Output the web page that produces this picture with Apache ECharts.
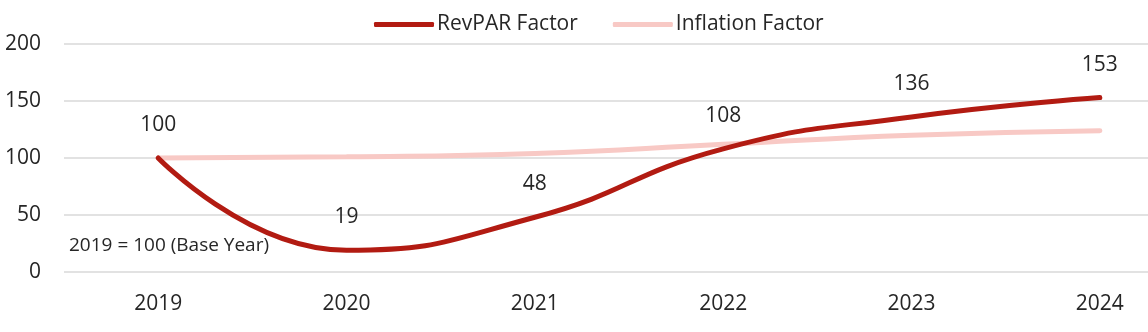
<!DOCTYPE html>
<html><head><meta charset="utf-8">
<script src="https://cdn.jsdelivr.net/npm/echarts@6/dist/echarts.min.js"></script>
<style>html,body{margin:0;padding:0;background:#fff}#c{width:1148px;height:332px}</style>
</head><body><div id="c"></div>
<script>
const years = ['2019','2020','2021','2022','2023','2024'];
const revparFactor = [100, 19, 48, 108, 136, 153];
const inflationFactor = [100, 101, 104, 112, 120, 124];
const yTicks = {min: 0, max: 200, interval: 50};
const note = '2019 = 100 (Base Year)';

const FONT = 'Open Sans';
const TXT = '#262626';
const chart = echarts.init(document.getElementById('c'), null, {renderer: 'canvas'});
chart.setOption({
  animation: false,
  textStyle: {fontFamily: FONT},
  grid: {left: 64, width: 1130, top: 44, height: 228, containLabel: false, outerBoundsMode: 'none'},
  legend: {
    left: 369, top: 9, itemWidth: 60, itemHeight: 5, itemGap: 35, icon: 'roundRect',
    textStyle: {fontFamily: FONT, fontSize: 21, color: TXT, padding: [0,0,0,-2]},
    data: ['RevPAR Factor', 'Inflation Factor']
  },
  xAxis: {
    type: 'category', data: years, boundaryGap: true,
    axisLine: {show: false}, axisTick: {show: false},
    axisLabel: {fontFamily: FONT, fontSize: 21, color: TXT, margin: 22}
  },
  yAxis: {
    type: 'value', min: yTicks.min, max: yTicks.max, interval: yTicks.interval,
    axisLine: {show: false}, axisTick: {show: false},
    splitLine: {lineStyle: {color: '#d9d9d9', width: 1.5}},
    axisLabel: {fontFamily: FONT, fontSize: 21, color: TXT, margin: 23}
  },
  graphic: [{
    type: 'text', left: 69, top: 236,
    style: {text: note, fontFamily: FONT, fontSize: 19, fill: TXT}
  }],
  series: [
    {
      name: 'Inflation Factor', type: 'line', data: inflationFactor, smooth: 0.5,
      symbol: 'none', z: 2,
      lineStyle: {color: '#f8c9c5', width: 5, cap: 'round'},
      itemStyle: {color: '#f8c9c5'}
    },
    {
      name: 'RevPAR Factor', type: 'line', data: revparFactor, smooth: 0.5,
      symbol: 'circle', symbolSize: 1, showSymbol: true, z: 3,
      lineStyle: {color: '#b21b12', width: 5, cap: 'round'},
      itemStyle: {color: '#b21b12'},
      label: {show: true, position: 'top', distance: 22, fontFamily: FONT, fontSize: 21, color: TXT}
    }
  ]
});
</script></body></html>
